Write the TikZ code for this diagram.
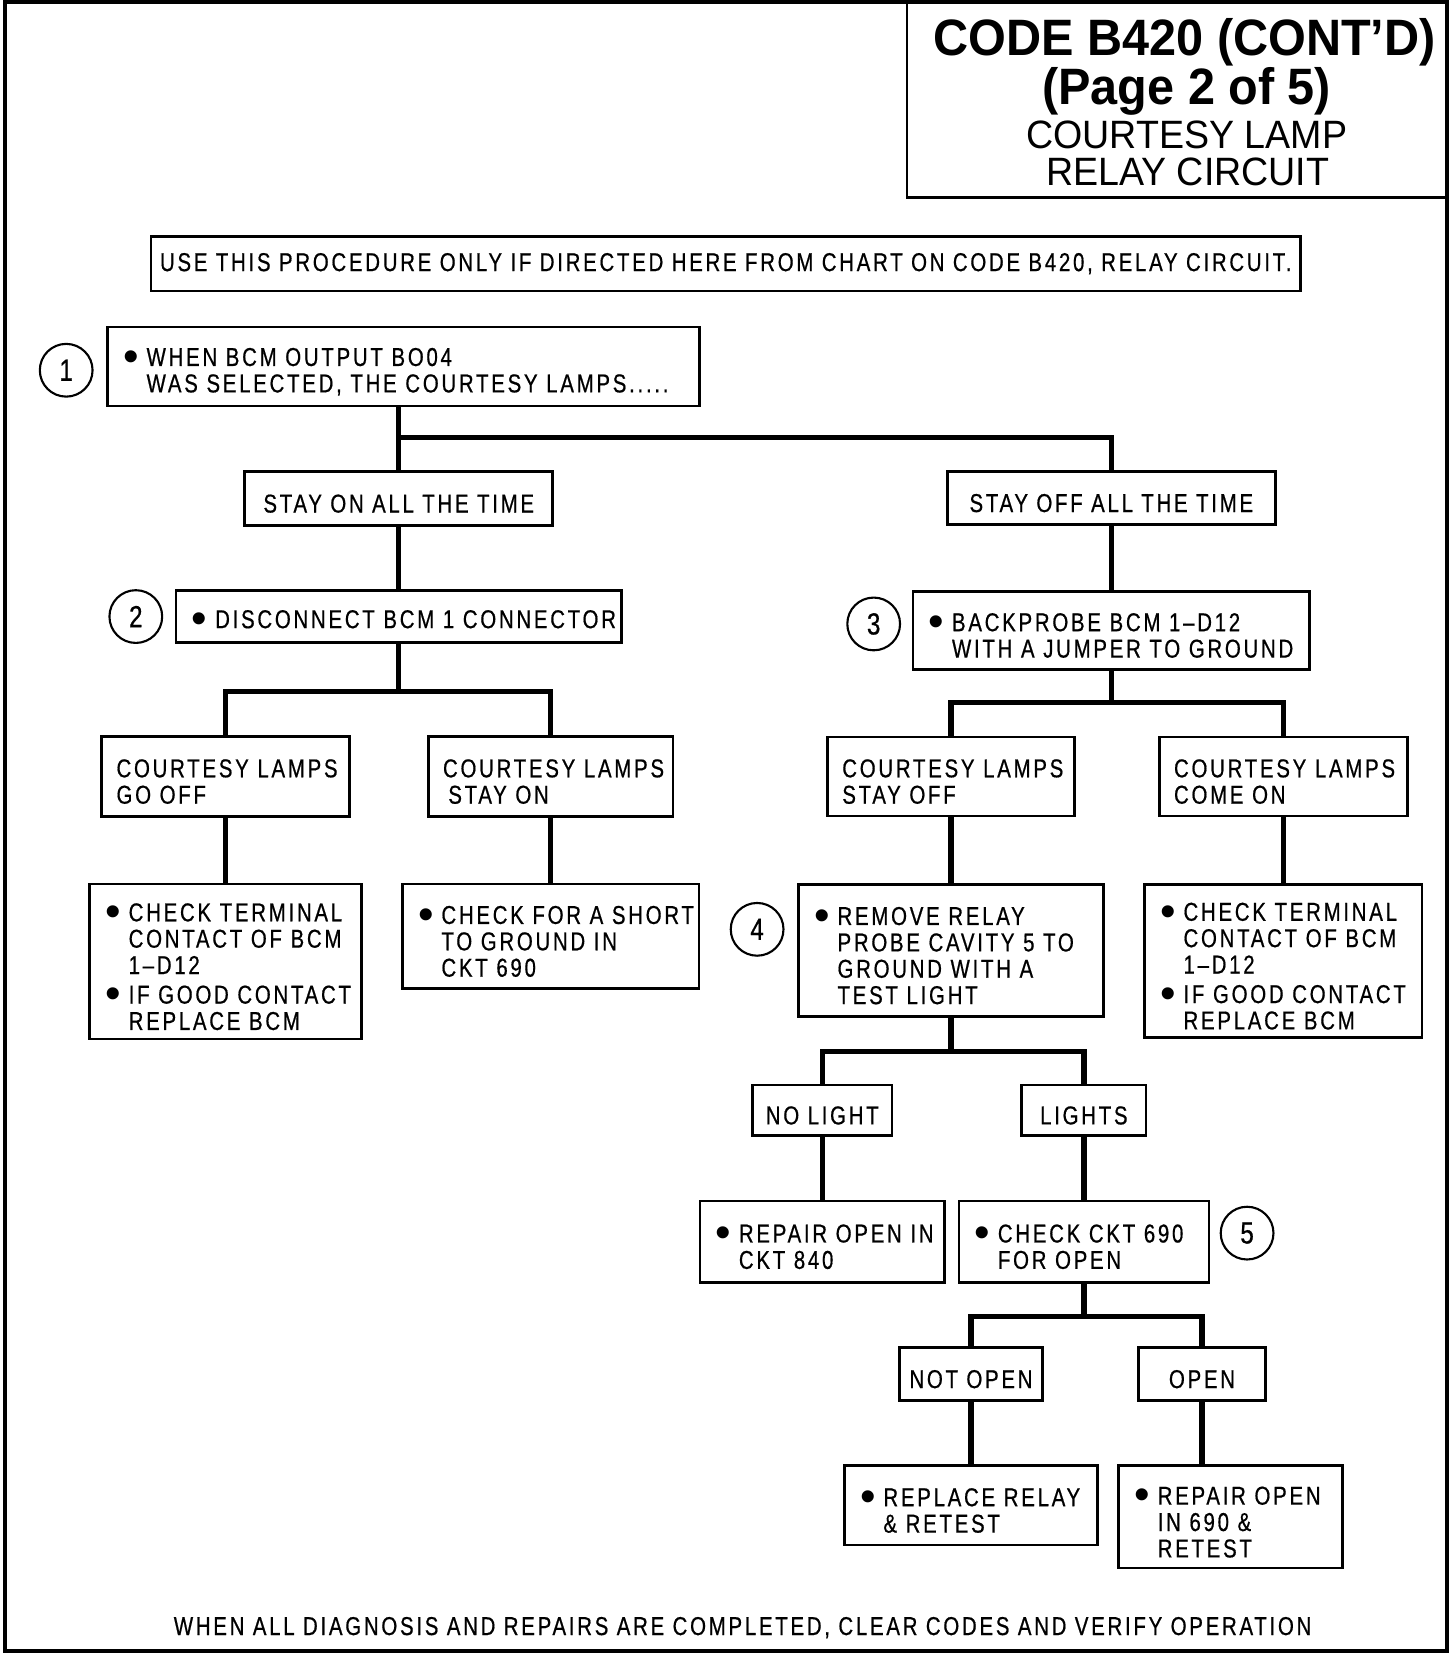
\documentclass[tikz,border=0pt]{standalone}
\usepackage{fontspec}
\setmainfont{Liberation Sans}[FakeStretch=0.79,LetterSpace=10.6,FakeBold=0.6]
\newfontfamily\ttlfont{Liberation Sans}[FakeStretch=0.95]
\newfontfamily\dotfont{Liberation Sans}
\usetikzlibrary{positioning}

\newcommand{\boxfont}{\fontsize{24.5}{25}\selectfont}
\newcommand{\tp}{\rule{0pt}{27pt}}
\newcommand{\bul}{\tp\hspace*{11pt}\makebox[22pt][l]{\raisebox{-5pt}{\dotfont\fontsize{42}{25}\selectfont\textbullet}}}
\newcommand{\ind}{\hspace*{33pt}}
\newcommand{\pad}{\hspace*{10pt}}

\tikzset{
  chart/.style={draw, line width=2.5pt, inner xsep=4pt, inner ysep=0pt, align=left, font=\boxfont},
  lbl/.style={draw, line width=2.5pt, inner sep=0pt, align=center, font=\boxfont},
  num/.style={draw, circle, line width=2pt, minimum size=50pt, inner sep=0pt, font=\fontsize{29}{30}\selectfont},
  ttl/.style={inner sep=0pt, font=\ttlfont\bfseries\fontsize{48.5}{50}\selectfont},
  sub/.style={inner sep=0pt, font=\ttlfont\fontsize{37.5}{40}\selectfont},
  conn/.style={line width=5pt}
}

\begin{document}
\begin{tikzpicture}[x=1pt,y=-1pt]
\useasboundingbox (0,0) rectangle (1380,1568);
\draw[line width=4pt] (5,2) rectangle (1372,1565);
\draw[line width=2.5pt] (860,2) |- (1372,187);

% title block
\node[ttl, anchor=base] (t1) at (1123,53) {CODE B420 (CONT’D)};
\node[ttl, anchor=base] (t2) at (1125,99) {(Page 2 of 5)};
\node[sub, anchor=base] (t3) at (1125,141) {COURTESY LAMP};
\node[sub, anchor=base] (t4) at (1126,176) {RELAY CIRCUIT};

\node[lbl, minimum width=1090pt, minimum height=52pt] (use) at (688,250)
  {USE THIS PROCEDURE ONLY IF DIRECTED HERE FROM CHART ON CODE B420, RELAY CIRCUIT.};

% step 1
\node[chart, text width=553pt, minimum height=75pt] (b1) at (382.5,347.5)
  {\bul WHEN BCM OUTPUT BO04\\\ind WAS SELECTED, THE COURTESY LAMPS.....};
\node[num, left=12pt of b1, yshift=-3.5pt] (c1) {1};

\node[lbl, minimum width=292pt, minimum height=51pt, below=59.5pt of b1, xshift=-4.5pt] (on) {\tp STAY ON ALL THE TIME};
\node[lbl, minimum width=311pt, minimum height=50pt, below=59.5pt of b1, xshift=671pt] (off) {\tp STAY OFF ALL THE TIME};

% left branch
\node[chart, text width=414pt, minimum height=49pt, below=59.5pt of on] (b2)
  {\bul DISCONNECT BCM 1 CONNECTOR};
\node[num, left=11pt of b2] (c2) {2};
\node[chart, text width=227pt, minimum height=76pt, below=86.5pt of b2, xshift=-164pt] (goOff)
  {\tp\pad COURTESY LAMPS\\\pad GO OFF};
\node[chart, text width=224pt, minimum height=76pt, below=86.5pt of b2, xshift=144pt] (stayOn)
  {\tp\pad COURTESY LAMPS\\\pad\hspace*{5pt}STAY ON};
\node[chart, text width=250pt, minimum height=147pt, below=61.5pt of goOff] (chk1)
  {\bul CHECK TERMINAL\\\ind CONTACT OF BCM\\\ind 1–D12\\\bul IF GOOD CONTACT\\\ind REPLACE BCM};
\node[chart, text width=273pt, minimum height=99pt, below=61.5pt of stayOn] (short)
  {\bul CHECK FOR A SHORT\\\ind TO GROUND IN\\\ind CKT 690};

% right branch
\node[chart, text width=368pt, minimum height=74pt, below=61pt of off] (b3)
  {\bul BACKPROBE BCM 1–D12\\\ind WITH A JUMPER TO GROUND};
\node[num, left=10pt of b3, yshift=6pt] (c3) {3};
\node[chart, text width=226pt, minimum height=75pt, below=61.5pt of b3, xshift=-152pt] (stayOff)
  {\tp\pad COURTESY LAMPS\\\pad STAY OFF};
\node[chart, text width=227pt, minimum height=75pt, below=61.5pt of b3, xshift=163pt] (comeOn)
  {\tp\pad COURTESY LAMPS\\\pad COME ON};
\node[chart, text width=281pt, minimum height=125pt, below=62.5pt of stayOff] (b4)
  {\bul REMOVE RELAY\\\ind PROBE CAVITY 5 TO\\\ind GROUND WITH A\\\ind TEST LIGHT};
\node[num, left=12pt of b4, yshift=20pt] (c4) {4};
\node[chart, text width=255pt, minimum height=145pt, below=62.5pt of comeOn] (chk2)
  {\bul CHECK TERMINAL\\\ind CONTACT OF BCM\\\ind 1–D12\\\bul IF GOOD CONTACT\\\ind REPLACE BCM};

\node[lbl, minimum width=132pt, minimum height=48pt, below=62.5pt of b4, xshift=-122pt] (noLight) {\tp NO LIGHT};
\node[lbl, minimum width=118pt, minimum height=48pt, below=62.5pt of b4, xshift=126pt] (lights) {\tp LIGHTS};
\node[chart, text width=224pt, minimum height=77pt, below=59.5pt of noLight] (rep840)
  {\bul REPAIR OPEN IN\\\ind CKT 840};
\node[chart, text width=229pt, minimum height=77pt, below=59.5pt of lights] (b5)
  {\bul CHECK CKT 690\\\ind FOR OPEN};
\node[num, right=9pt of b5, yshift=8pt] (c5) {5};

\node[lbl, minimum width=135pt, minimum height=50pt, below=59.5pt of b5, xshift=-107pt] (notOpen) {\tp NOT OPEN};
\node[lbl, minimum width=120pt, minimum height=50pt, below=59.5pt of b5, xshift=112pt] (open) {\tp OPEN};
\node[chart, text width=232pt, minimum height=75pt, below=59.5pt of notOpen] (replRelay)
  {\bul REPLACE RELAY\\\ind \& RETEST};
\node[chart, text width=204pt, minimum height=97pt, below=59.5pt of open, xshift=27pt] (rep690)
  {\bul REPAIR OPEN\\\ind IN 690 \&\\\ind RETEST};

\node[font=\boxfont] (foot) at (704,1543)
  {WHEN ALL DIAGNOSIS AND REPAIRS ARE COMPLETED, CLEAR CODES AND VERIFY OPERATION};

% connectors
\draw[conn] (b1.south -| on.north) -- (on.north);
\draw[conn] (on.north) ++(0,-31) -| (off.north);
\draw[conn] (on.south) -- (b2.north);
\draw[conn] (off.south) -- (b3.north);

\draw[conn] (b2.south) -- ++(0,45) coordinate (f2);
\draw[conn] (goOff.north) |- (f2) -| (stayOn.north);
\draw[conn] (goOff.south) -- (chk1.north);
\draw[conn] (stayOn.south) -- (short.north);

\draw[conn] (b3.south) -- ++(0,30) coordinate (f3);
\draw[conn] (stayOff.north) |- (f3) -| (comeOn.north);
\draw[conn] (stayOff.south) -- (b4.north);
\draw[conn] (comeOn.south) -- (chk2.north);

\draw[conn] (b4.south) -- ++(0,32) coordinate (f4);
\draw[conn] (noLight.north) |- (f4) -| (lights.north);
\draw[conn] (noLight.south) -- (rep840.north);
\draw[conn] (lights.south) -- (b5.north);

\draw[conn] (b5.south) -- ++(0,31) coordinate (f5);
\draw[conn] (notOpen.north) |- (f5) -| (open.north);
\draw[conn] (notOpen.south) -- (replRelay.north);
\draw[conn] (open.south) -- (open.south |- rep690.north);
\end{tikzpicture}
\end{document}
